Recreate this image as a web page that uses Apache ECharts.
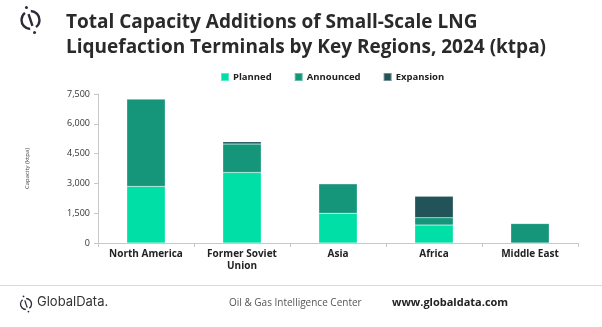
<!DOCTYPE html>
<html>
<head>
<meta charset="utf-8">
<script src="https://cdn.jsdelivr.net/npm/echarts@6/dist/echarts.min.js"></script>
<style>
  html, body { margin: 0; padding: 0; background: #fff; }
  #chart { width: 602px; height: 327px; }
</style>
</head>
<body>
<div id="chart"></div>
<script>
// Regions and capacity additions (ktpa) by project stage
const regions = ['North America', 'Former Soviet\nUnion', 'Asia', 'Africa', 'Middle East'];
const planned = [2850, 3550, 1500, 900, 0];
const announced = [4400, 1430, 1480, 370, 980];
const expansion = [0, 120, 0, 1080, 0];
const yTicks = { min: 0, max: 7500, interval: 1500 };

const colors = { planned: '#00DFA6', announced: '#15967B', expansion: '#225358' };
const font = '"Open Sans", "Liberation Sans", sans-serif';
const ink = '#2b2b3a';

const chart = echarts.init(document.getElementById('chart'), null, { renderer: 'canvas' });

function stackSeries(name, data, color) {
  return {
    name: name,
    type: 'bar',
    stack: 'total',
    data: data,
    barWidth: '40%',
    itemStyle: { color: color, borderColor: 'rgba(255,255,255,0.35)', borderWidth: 0.5 },
    emphasis: { disabled: true }
  };
}

// Emblem: a ring split by a diagonal stroke with a dot at each end
function emblem(cx, cy, r, lw, dotR) {
  const d = Math.PI / 180;
  const a = 72; // direction of the stroke, degrees (y down)
  const gap = 20;
  const ux = Math.cos(a * d), uy = Math.sin(a * d);
  return [
    { type: 'arc', shape: { cx, cy, r, startAngle: (a - 180 + gap) * d, endAngle: (a - gap) * d, clockwise: true },
      style: { stroke: ink, lineWidth: lw, fill: null } },
    { type: 'arc', shape: { cx, cy, r, startAngle: (a + gap) * d, endAngle: (a + 180 - gap) * d, clockwise: true },
      style: { stroke: ink, lineWidth: lw, fill: null } },
    { type: 'line', shape: { x1: cx - ux * r * 0.7, y1: cy - uy * r * 0.7, x2: cx + ux * r * 0.7, y2: cy + uy * r * 0.7 },
      style: { stroke: ink, lineWidth: lw } },
    { type: 'circle', shape: { cx: cx - ux * r * 1.45, cy: cy - uy * r * 1.45, r: dotR }, style: { fill: ink } },
    { type: 'circle', shape: { cx: cx + ux * r * 1.45, cy: cy + uy * r * 1.45, r: dotR }, style: { fill: ink } }
  ];
}

chart.setOption({
  animation: false,
  textStyle: { fontFamily: font },
  title: {
    text: 'Total Capacity Additions of Small-Scale LNG\nLiquefaction Terminals by Key Regions, 2024 (ktpa)',
    left: 61,
    top: 5,
    textStyle: { fontSize: 19, fontWeight: 'bold', color: '#2a2a2a', lineHeight: 25, fontFamily: font }
  },
  legend: {
    top: 67,
    left: 215,
    itemWidth: 8,
    itemHeight: 8,
    itemGap: 22,
    icon: 'rect',
    textStyle: { fontSize: 9.5, fontWeight: 'bold', color: '#222', padding: [0, 0, 0, -1] },
    data: ['Planned', 'Announced', 'Expansion']
  },
  grid: { left: 98, right: 24, top: 94, bottom: 84 },
  xAxis: {
    type: 'category',
    data: regions,
    axisLine: { lineStyle: { color: '#c8c8c8', width: 1 } },
    axisTick: { show: true, length: 4, lineStyle: { color: '#c8c8c8' } },
    axisLabel: { fontSize: 10, fontWeight: 'bold', color: '#222', margin: 5, lineHeight: 12 }
  },
  yAxis: {
    type: 'value',
    min: yTicks.min,
    max: yTicks.max,
    interval: yTicks.interval,
    name: 'Capacity (ktpa)',
    nameLocation: 'middle',
    nameGap: 68,
    nameRotate: 90,
    nameTextStyle: { fontSize: 6, color: '#444' },
    axisLine: { show: true, lineStyle: { color: '#c8c8c8' } },
    axisTick: { show: true, length: 4, lineStyle: { color: '#c8c8c8' } },
    splitLine: { show: false },
    axisLabel: {
      fontSize: 9, color: '#333', margin: 8,
      formatter: v => v.toLocaleString('en-US')
    }
  },
  series: [
    stackSeries('Planned', planned, colors.planned),
    stackSeries('Announced', announced, colors.announced),
    stackSeries('Expansion', expansion, colors.expansion)
  ],
  graphic: [
    ...emblem(30.5, 20, 9, 2.4, 1.5),
    // footer rule
    { type: 'line', shape: { x1: 0, y1: 285.5, x2: 602, y2: 285.5 }, style: { stroke: '#d9d9d9', lineWidth: 1 } },
    ...emblem(26, 304, 5.5, 1.3, 0.9),
    { type: 'text', left: 37, top: 296, style: { text: 'GlobalData.', fontSize: 13, fontFamily: '"Inter", "Noto Sans", sans-serif', fill: '#333' } },
    { type: 'text', left: 229, top: 298, style: { text: 'Oil & Gas Intelligence Center', fontSize: 10, fontFamily: font, fill: '#555' } },
    { type: 'text', left: 392, top: 297, style: { text: 'www.globaldata.com', fontSize: 11, fontWeight: 'bold', fontFamily: font, fill: '#222' } }
  ]
});
</script>
</body>
</html>
